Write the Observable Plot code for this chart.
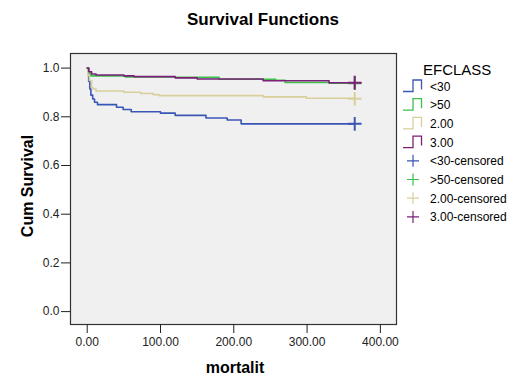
<!DOCTYPE html>
<html><head><meta charset="utf-8">
<script src="https://cdn.jsdelivr.net/npm/d3@7"></script>
<script src="https://cdn.jsdelivr.net/npm/@observablehq/plot@0.6"></script>
<style>body{margin:0;background:#fff;font-family:"Liberation Sans",Arial,sans-serif}</style>
</head><body><div id="chart"></div><script>
const groups = ["<30", ">50", "2.00", "3.00"];
const colors = ["#3a56b5", "#3dbf4b", "#d8cf9b", "#7b2079"];

const timeLt30 = [0, 2, 3.5, 5, 7.5, 10, 14, 40, 49, 60, 100, 120, 162, 191, 210, 365];
const survLt30 = [1.0, 0.946, 0.914, 0.889, 0.873, 0.86, 0.85, 0.839, 0.83, 0.821, 0.815, 0.806, 0.795, 0.787, 0.771, 0.771];

const timeGt50 = [0, 2, 5, 52, 120, 180, 257, 270, 330, 365];
const survGt50 = [1.0, 0.98, 0.968, 0.964, 0.962, 0.954, 0.950, 0.941, 0.938, 0.938];

const time200 = [0, 1, 3, 6, 8, 12, 50, 73, 90, 98, 240, 299, 365];
const surv200 = [1.0, 0.97, 0.949, 0.919, 0.914, 0.906, 0.901, 0.896, 0.891, 0.887, 0.882, 0.876, 0.876];

const time300 = [0, 2, 6, 12, 50, 64, 120, 150, 240, 330, 365];
const surv300 = [1.0, 0.985, 0.976, 0.972, 0.968, 0.965, 0.960, 0.955, 0.948, 0.940, 0.940];

const censorTime = [365, 365, 365, 365];
const censorSurv = [0.771, 0.938, 0.874, 0.940];

const xTicks = [0, 100, 200, 300, 400];
const yTicks = [0, 0.2, 0.4, 0.6, 0.8, 1.0];

const series = [[timeLt30, survLt30], [timeGt50, survGt50], [time200, surv200], [time300, surv300]];
const rows = series.flatMap(([t, s], i) => t.map((v, j) => ({group: groups[i], time: v, surv: s[j]})));
const censored = groups.map((g, i) => ({group: g, time: censorTime[i], surv: censorSurv[i]}));

const W = 523, H = 378;
const plot = Plot.plot({
  width: W, height: H,
  marginLeft: 70, marginRight: 127, marginTop: 53, marginBottom: 54,
  style: {fontFamily: "Liberation Sans, Arial, sans-serif", fontSize: "12px", background: "#fff", overflow: "visible"},
  x: {domain: [-22.8, 422]},
  y: {domain: [-0.053, 1.06]},
  color: {domain: groups, range: colors},
  marks: [
    Plot.frame({fill: "#f0f0f0", stroke: null}),
    Plot.line(rows, {x: "time", y: "surv", z: "group", stroke: "group", curve: "step-after", strokeWidth: 1.6}),
    Plot.dot(censored, {x: "time", y: "surv", stroke: "group", symbol: "plus", r: 4.5, strokeWidth: 2}),
    Plot.frame({stroke: "#333", strokeWidth: 1.2}),
    Plot.axisX({ticks: xTicks, tickFormat: d3.format(".2f"), tickSize: 9, tickPadding: 4, label: null, stroke: "#222", fill: "#222"}),
    Plot.axisY({ticks: yTicks, tickFormat: d3.format(".1f"), tickSize: 9, tickPadding: 2, label: null, stroke: "#222", fill: "#222"})
  ]
});

const svg = d3.select(plot);
svg.append("text").attr("x", 263).attr("y", 25).attr("text-anchor", "middle")
  .attr("font-size", 17).attr("font-weight", "bold").attr("fill", "#000").text("Survival Functions");
svg.append("text").attr("x", 235).attr("y", 373).attr("text-anchor", "middle")
  .attr("font-size", 16).attr("font-weight", "bold").attr("fill", "#000").text("mortalit");
svg.append("text").attr("transform", "translate(33,186) rotate(-90)").attr("text-anchor", "middle")
  .attr("font-size", 16).attr("font-weight", "bold").attr("fill", "#000").text("Cum Survival");

// legend
const lg = svg.append("g").attr("text-anchor", "start");
lg.append("text").attr("x", 423).attr("y", 75).attr("font-size", 15).attr("fill", "#000").text("EFCLASS");
const rowH = 18.7, base0 = 90.5;
groups.forEach((g, i) => {
  const b = base0 + i * rowH;
  lg.append("path").attr("d", `M403,${b + 1}H413V${b - 10.5}H421.5V${b - 1}`)
    .attr("fill", "none").attr("stroke", colors[i]).attr("stroke-width", 1.3);
  lg.append("text").attr("x", 430).attr("y", b).attr("font-size", 12).attr("fill", "#000").text(g);
});
groups.forEach((g, i) => {
  const b = base0 + (i + 4) * rowH;
  const cy = b - 4.5;
  lg.append("path").attr("d", `M407,${cy}H419M413,${cy - 6}V${cy + 6}`)
    .attr("fill", "none").attr("stroke", colors[i]).attr("stroke-width", 1.2);
  lg.append("text").attr("x", 430).attr("y", b).attr("font-size", 12).attr("fill", "#000").text(g + "-censored");
});

document.getElementById("chart").appendChild(plot);
</script></body></html>
